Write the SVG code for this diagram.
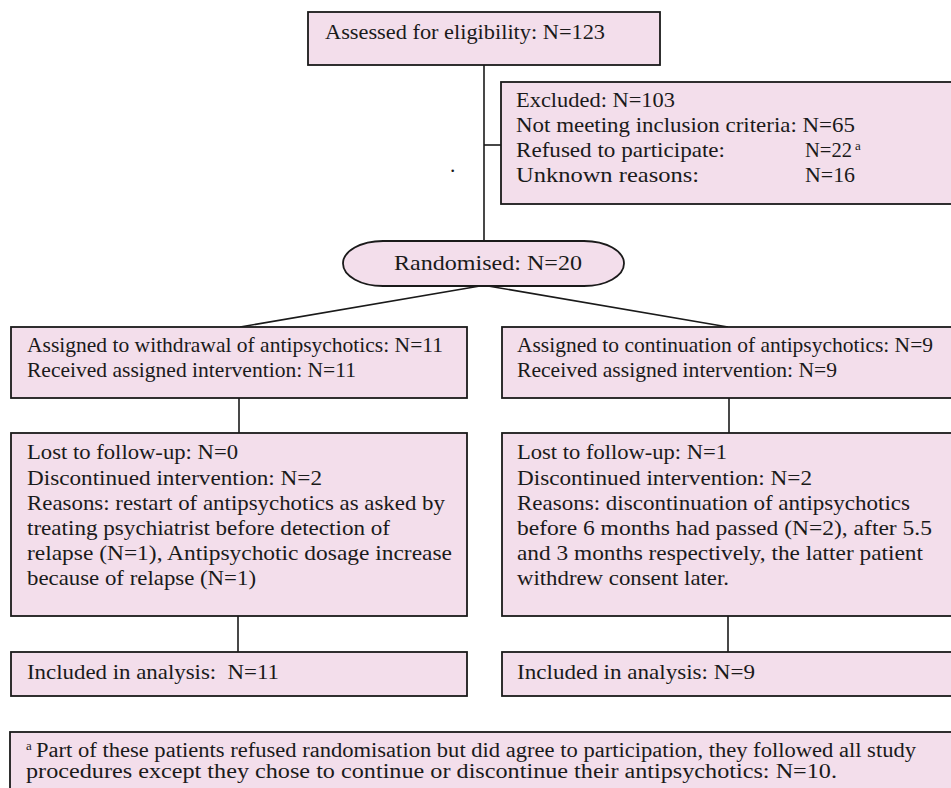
<svg xmlns="http://www.w3.org/2000/svg" width="951" height="788" viewBox="0 0 951 788">
<style>
.box{fill:#F3DEEB;stroke:#1a1a1a;stroke-width:1.8}
.con{fill:none;stroke:#1a1a1a;stroke-width:1.6}
text{font-family:"Liberation Serif","Times New Roman",serif;font-size:21.5px;fill:#1a1a1a}
.sup{font-size:13px}
.foot{font-size:20.5px}
.pre{white-space:pre}
</style>
<rect width="951" height="788" fill="#ffffff"/>
<g id="connectors">
<path class="con" d="M484 65 V241"/>
<path class="con" d="M484 145 H501"/>
<path class="con" d="M480 286 L240 327"/>
<path class="con" d="M488 286 L728 327"/>
<path class="con" d="M239 398 V433"/>
<path class="con" d="M729 398 V433"/>
<path class="con" d="M238 616 V652"/>
<path class="con" d="M728 616 V652"/>
</g>
<g id="assessed">
<rect class="box" x="308" y="12" width="352" height="53"/>
<text x="325" y="39" textLength="280" lengthAdjust="spacingAndGlyphs">Assessed for eligibility: N=123</text>
</g>
<g id="excluded">
<rect class="box" x="501" y="82" width="460" height="122"/>
<text x="516" y="107" textLength="159" lengthAdjust="spacingAndGlyphs">Excluded: N=103</text>
<text x="516" y="132" textLength="339" lengthAdjust="spacingAndGlyphs">Not meeting inclusion criteria: N=65</text>
<text x="516" y="157" textLength="209" lengthAdjust="spacingAndGlyphs">Refused to participate:</text>
<text x="805" y="157" textLength="47" lengthAdjust="spacingAndGlyphs">N=22</text>
<text class="sup" x="855" y="150">a</text>
<text x="516" y="182" textLength="183" lengthAdjust="spacingAndGlyphs">Unknown reasons:</text>
<text x="805" y="182" textLength="50" lengthAdjust="spacingAndGlyphs">N=16</text>
</g>
<g id="dot">
<text x="450" y="172" font-size="14">.</text>
</g>
<g id="randomised">
<rect class="box" x="343" y="241" width="281" height="45" rx="40" ry="22.5"/>
<text x="394" y="270" textLength="188" lengthAdjust="spacingAndGlyphs">Randomised: N=20</text>
</g>
<g id="assigned-withdrawal">
<rect class="box" x="11" y="327" width="456" height="71"/>
<text x="27" y="352" textLength="416" lengthAdjust="spacingAndGlyphs">Assigned to withdrawal of antipsychotics: N=11</text>
<text x="27" y="377" textLength="329" lengthAdjust="spacingAndGlyphs">Received assigned intervention: N=11</text>
</g>
<g id="assigned-continuation">
<rect class="box" x="502" y="327" width="459" height="71"/>
<text x="517" y="352" textLength="416" lengthAdjust="spacingAndGlyphs">Assigned to continuation of antipsychotics: N=9</text>
<text x="517" y="377" textLength="320" lengthAdjust="spacingAndGlyphs">Received assigned intervention: N=9</text>
</g>
<g id="followup-withdrawal">
<rect class="box" x="11" y="433" width="456" height="183"/>
<text x="27" y="459" textLength="211" lengthAdjust="spacingAndGlyphs">Lost to follow-up: N=0</text>
<text x="27" y="484.5" textLength="295" lengthAdjust="spacingAndGlyphs">Discontinued intervention: N=2</text>
<text x="27" y="510" textLength="418" lengthAdjust="spacingAndGlyphs">Reasons: restart of antipsychotics as asked by</text>
<text x="27" y="535" textLength="363" lengthAdjust="spacingAndGlyphs">treating psychiatrist before detection of</text>
<text x="27" y="560" textLength="425" lengthAdjust="spacingAndGlyphs">relapse (N=1), Antipsychotic dosage increase</text>
<text x="27" y="585" textLength="229" lengthAdjust="spacingAndGlyphs">because of relapse (N=1)</text>
</g>
<g id="followup-continuation">
<rect class="box" x="502" y="433" width="459" height="183"/>
<text x="517" y="459" textLength="210" lengthAdjust="spacingAndGlyphs">Lost to follow-up: N=1</text>
<text x="517" y="484.5" textLength="295" lengthAdjust="spacingAndGlyphs">Discontinued intervention: N=2</text>
<text x="517" y="510" textLength="393" lengthAdjust="spacingAndGlyphs">Reasons: discontinuation of antipsychotics</text>
<text x="517" y="535" textLength="415" lengthAdjust="spacingAndGlyphs">before 6 months had passed (N=2), after 5.5</text>
<text x="517" y="560" textLength="406" lengthAdjust="spacingAndGlyphs">and 3 months respectively, the latter patient</text>
<text x="517" y="585" textLength="212" lengthAdjust="spacingAndGlyphs">withdrew consent later.</text>
</g>
<g id="analysis-withdrawal">
<rect class="box" x="11" y="652" width="456" height="44"/>
<text class="pre" x="27" y="679" textLength="252" lengthAdjust="spacingAndGlyphs">Included in analysis:  N=11</text>
</g>
<g id="analysis-continuation">
<rect class="box" x="502" y="652" width="459" height="44"/>
<text x="517" y="679" textLength="238" lengthAdjust="spacingAndGlyphs">Included in analysis: N=9</text>
</g>
<g id="footnote">
<rect class="box" x="10" y="732" width="952" height="70"/>
<text class="sup" x="26" y="750">a</text>
<text class="foot" x="36" y="757" textLength="880" lengthAdjust="spacingAndGlyphs">Part of these patients refused randomisation but did agree to participation, they followed all study</text>
<text class="foot" x="26" y="777.5" textLength="811" lengthAdjust="spacingAndGlyphs">procedures except they chose to continue or discontinue their antipsychotics: N=10.</text>
</g>
</svg>
